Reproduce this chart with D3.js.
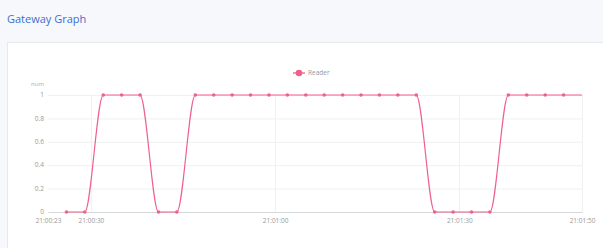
<!DOCTYPE html>
<html><head><meta charset="utf-8">
<script src="https://cdn.jsdelivr.net/npm/d3@7"></script>
<style>
html,body{margin:0;padding:0;background:#f7f8fc;}
svg{display:block;}
</style></head>
<body><svg id="c" width="603" height="248"></svg>
<script>
const title = "Gateway Graph";
const seriesName = "Reader";
const yLabel = "num";
const times = ["21:00:26","21:00:29","21:00:32","21:00:35","21:00:38","21:00:41","21:00:44","21:00:47","21:00:50","21:00:53","21:00:56","21:00:59","21:01:02","21:01:05","21:01:08","21:01:11","21:01:14","21:01:17","21:01:20","21:01:23","21:01:26","21:01:29","21:01:32","21:01:35","21:01:38","21:01:41","21:01:44","21:01:47","21:01:50"];
const values = [0,0,1,1,1,0,0,1,1,1,1,1,1,1,1,1,1,1,1,1,0,0,0,0,1,1,1,1,1];
const xDomain = ["21:00:23","21:01:50"];
const xTicks = ["21:00:23","21:00:30","21:01:00","21:01:30","21:01:50"];
const yTicks = [0,0.2,0.4,0.6,0.8,1];

const parse = d3.timeParse("%H:%M:%S");
const fmt = d3.timeFormat("%H:%M:%S");
const svg = d3.select("#c");
const font = "'Open Sans', sans-serif";

// card
svg.append("rect").attr("x",7.5).attr("y",42.5).attr("width",620).attr("height",240)
  .attr("fill","#fff").attr("stroke","#e8e9ee");
svg.append("text").attr("x",7).attr("y",23).text(title)
  .attr("font-family",font).attr("font-size",11).attr("fill","#3a6fd0");

const L=48,R=582,T=95,B=212;
const x = d3.scaleTime().domain(xDomain.map(parse)).range([L,R]);
const y = d3.scaleLinear().domain([0,1]).range([B,T]);

const g = svg.append("g");
// horizontal grid
g.append("g").attr("transform",`translate(${L},0)`)
 .call(d3.axisLeft(y).tickValues(yTicks).tickSize(-(R-L)).tickFormat(d=>d3.format("~g")(d)).tickPadding(4))
 .call(a=>{a.select(".domain").remove();
   a.selectAll(".tick line").attr("stroke","#eef0f3").attr("stroke-width",1);
   a.selectAll(".tick text").attr("fill","#999").attr("font-size",6.5).attr("font-family",font).attr("dy","0.25em");});
// vertical grid
g.append("g").selectAll("line").data(xTicks.slice(1)).join("line")
 .attr("x1",d=>Math.round(x(parse(d)))+0.5).attr("x2",d=>Math.round(x(parse(d)))+0.5)
 .attr("y1",T).attr("y2",B).attr("stroke","#eef0f3");
// x axis
g.append("g").attr("transform",`translate(0,${B})`)
 .call(d3.axisBottom(x).tickValues(xTicks.map(parse)).tickSize(0).tickFormat(fmt).tickPadding(6))
 .call(a=>{a.select(".domain").attr("stroke","#d6d8dc");
   a.selectAll(".tick text").attr("fill","#999").attr("font-size",6.5).attr("font-family",font);});
svg.append("text").attr("x",44).attr("y",86).attr("text-anchor","end").text(yLabel)
  .attr("fill","#aaa").attr("font-size",6).attr("font-family",font);

const data = times.map((t,i)=>({t:parse(t),v:values[i]}));
const color="#f0608a";
const line = d3.line().x(d=>x(d.t)).y(d=>y(d.v)).curve(d3.curveMonotoneX);
g.append("path").datum(data).attr("d",line).attr("fill","none").attr("stroke",color).attr("stroke-width",1.2);
g.selectAll("circle.pt").data(data.slice(0,-1)).join("circle").attr("class","pt")
 .attr("cx",d=>x(d.t)).attr("cy",d=>y(d.v)).attr("r",1.8).attr("fill",color);

// legend
const lg = svg.append("g").attr("transform","translate(299,73)");
lg.append("line").attr("x1",-6).attr("x2",6).attr("stroke",color).attr("stroke-width",1.3);
lg.append("circle").attr("r",3.3).attr("fill",color);
lg.append("text").attr("x",9).attr("y",2.3).text(seriesName).attr("fill","#999")
  .attr("font-size",6.5).attr("font-family",font);
</script></body></html>
